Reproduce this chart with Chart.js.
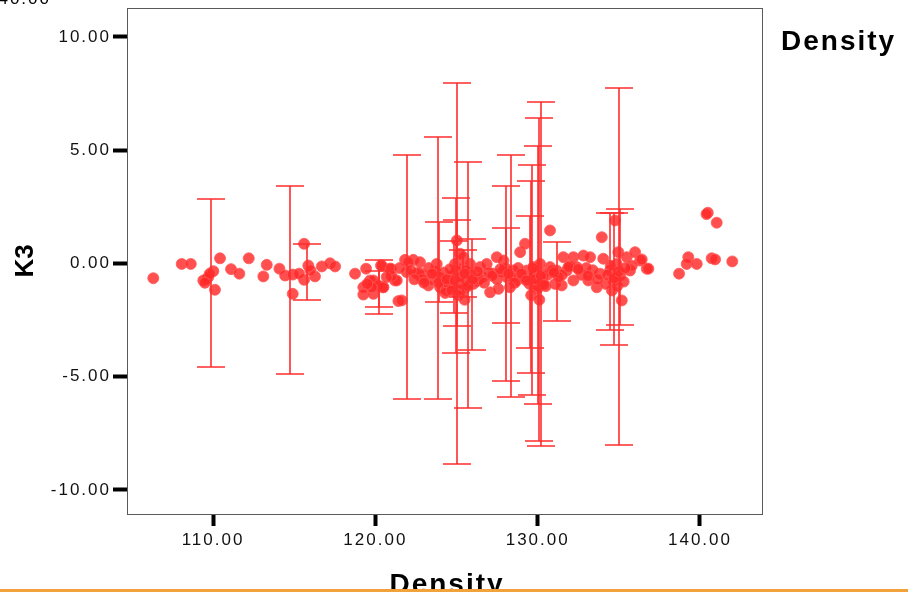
<!DOCTYPE html>
<html>
<head>
<meta charset="utf-8">
<script src="https://cdn.jsdelivr.net/npm/chart.js@4/dist/chart.umd.min.js"></script>
<style>
  html, body { margin: 0; padding: 0; background: #fff; }
  #wrap { width: 908px; height: 592px; }
</style>
</head>
<body>
<div id="wrap"><canvas id="c" width="908" height="592"></canvas></div>
<script>
// tick values
const xTicks = [110, 120, 130, 140]
const yTicks = [-10, -5, 0, 5, 10]

// scatter points: Density vs K3
const pointX = [
  106.32, 108.07, 108.63, 109.40, 109.71, 110.02, 109.61, 110.12, 110.43, 111.11,
  111.62, 112.20, 113.10, 113.31, 114.09, 114.44, 114.91, 114.91, 115.61, 115.61,
  115.87, 116.28, 116.70, 117.21, 117.52, 118.75, 119.43, 120.09, 119.26, 119.26,
  120.35, 120.91, 121.21, 121.42, 119.67, 120.49, 119.88, 109.80, 109.50, 115.30,
  116.00,
  120.39, 120.95, 119.88, 120.19, 120.49, 119.77, 121.32, 121.62, 121.83, 122.34,
  122.03, 122.75, 121.93, 122.55, 122.96, 123.48, 123.78, 123.27, 124.09, 124.60,
  125.02, 125.22, 124.91, 125.42, 124.81, 125.22, 124.40, 125.63, 123.99, 123.68,
  125.42, 125.83, 125.63, 126.04, 125.42, 126.45, 126.86, 127.07, 127.58, 127.48,
  127.89, 127.27, 128.10, 128.71, 128.92, 129.22, 128.50, 129.33, 129.73, 129.94,
  130.35, 130.76, 130.76, 131.07, 129.73, 130.15,
  131.58, 132.20, 132.82, 133.23, 131.17, 131.79, 132.41, 131.48, 132.20, 133.12,
  133.64, 133.95, 133.84, 134.46, 134.87, 134.97, 134.77, 135.08, 134.67, 134.57,
  135.18, 135.49, 136.00, 136.31, 136.72, 135.69, 134.04,
  140.48, 141.03, 139.28, 139.18, 139.80, 138.71, 140.72, 140.93, 141.99, 136.41,
  136.82, 140.40,
  124.20, 124.50, 124.80, 125.00, 125.30, 125.60, 125.90, 126.20, 124.30, 125.10,
  125.50, 124.00, 126.60, 127.00, 127.50, 128.00, 128.40, 128.80, 129.10, 129.50,
  129.80, 130.00, 130.30, 130.60, 129.60, 130.10, 131.50, 132.70, 133.40, 134.20,
  134.90, 135.30, 134.50, 135.80, 122.70, 123.30, 121.50, 121.00, 126.40, 127.80,
  124.70, 125.80, 130.50, 129.90, 133.00, 132.00,
  122.20, 122.90, 123.50, 123.90, 124.40, 124.60, 124.90, 125.20, 125.50, 125.70,
  126.00, 126.30, 126.70, 127.20, 127.70, 128.20, 128.60, 129.00, 129.30, 129.70,
  130.20, 130.40, 130.90, 131.30, 131.90, 132.50, 133.10, 133.70, 134.30, 134.70,
  135.00, 135.40, 122.40, 123.00, 128.30, 131.00, 120.70, 119.50
]
const pointY = [
  -0.65, -0.02, -0.02, -0.75, -0.60, -0.34, -0.68, -1.16, 0.23, -0.25,
  -0.45, 0.23, -0.57, -0.06, -0.23, -0.53, -0.49, -1.34, 0.87, -0.72,
  -0.09, -0.57, -0.13, 0.01, -0.13, -0.45, -0.23, -0.97, -1.05, -1.37,
  -0.09, -0.23, -0.75, -1.66, -0.75, -1.05, -1.34, -0.45, -0.85, -0.45,
  -0.30,
  -0.09, -0.23, -0.75, -0.97, -1.05, -1.05, -0.75, -1.63, 0.16, 0.16,
  0.06, 0.06, -0.38, -0.45, -0.53, -0.68, -0.02, -0.97, -0.82, -0.60,
  1.02, 0.43, -0.02, -0.16, -1.05, -1.19, -1.19, -0.75, -1.05, -0.31,
  0.28, -0.02, -0.60, -0.90, -1.19, -0.16, -0.02, -1.27, -1.12, 0.28,
  0.13, -0.45, -0.60, -0.75, 0.50, 0.87, -0.31, -0.31, -0.60, -0.97,
  -0.45, 1.46, -0.16, -0.90, -0.16, -0.02,
  0.28, 0.28, 0.35, 0.28, -0.31, -0.31, -0.16, -0.97, -0.75, -0.75,
  -1.05, 1.16, -0.45, -0.31, -0.02, 0.50, 1.90, -0.53, -0.75, -1.19,
  -1.63, 0.28, 0.50, 0.13, -0.23, -0.31, 0.21,
  2.24, 1.80, 0.28, -0.02, -0.02, -0.45, 0.23, 0.18, 0.09, 0.18,
  -0.23, 2.18,
  -0.40, -0.90, -0.50, -0.30, -0.90, -0.30, -0.50, -0.80, -1.30, -1.40,
  -1.60, -0.60, -0.60, -0.40, -0.70, -0.20, -0.60, -0.20, -0.60, -0.90,
  -0.40, -1.10, -0.80, -0.50, -1.40, -1.60, -0.50, -0.50, -0.30, -0.90,
  -1.00, -0.80, -0.10, -0.10, -0.40, -0.20, -0.20, -0.55, -0.70, -0.40,
  -1.20, -0.90, -1.00, -0.70, -0.20, -0.10,
  -0.30, -0.70, -0.45, -0.85, -0.70, -0.25, -0.75, -0.60, -0.45, -1.00,
  -0.70, -0.35, -0.85, -0.55, -0.25, -0.45, -0.85, -0.45, -0.75, -0.20,
  -0.55, -0.95, -0.30, -0.60, -0.15, -0.25, -0.55, -0.70, -0.50, -0.65,
  -0.35, -0.20, -0.70, -0.85, -1.05, -0.40, -0.60, -0.90
]

// error bars: position, low end, high end
const errX = [
  109.85, 114.75, 115.81, 120.25, 120.25, 121.93, 123.84, 123.90, 125.05, 124.95,
  125.00, 124.85, 125.42, 125.73, 125.96, 128.33, 128.05, 128.05, 130.23, 130.10,
  130.03, 129.67, 129.61, 129.50, 131.17, 134.98, 134.73, 134.46, 135.10
]
const errLow = [
  -4.55, -4.90, -1.62, -2.25, -1.94, -5.97, -5.97, -1.71, -8.84, -3.96,
  -2.78, -2.18, -1.46, -6.37, -3.81, -5.90, -5.21, -2.63, -8.07, -7.83,
  -6.21, -5.81, -4.83, -3.72, -2.56, -8.01, -3.58, -2.93, -2.71
]
const errHigh = [
  2.85, 3.42, 0.87, 0.15, -0.32, 4.80, 5.59, 1.85, 7.98, 2.88,
  1.93, 1.00, 0.60, 4.49, 1.09, 4.80, 3.41, 1.56, 7.14, 6.43,
  5.19, 4.34, 3.65, 2.09, 0.93, 7.76, 2.24, 2.24, 2.41
]

const FONT = '"Liberation Sans", Arial, sans-serif'

const errorBars = {
  id: 'errorBars',
  afterDatasetsDraw(chart) {
    const { ctx, scales: { x, y } } = chart
    ctx.save()
    ctx.strokeStyle = '#ff2e2e'
    ctx.lineWidth = 1.6
    errX.forEach((v, i) => {
      const px = Math.round(x.getPixelForValue(v))
      const lo = Math.round(y.getPixelForValue(errLow[i]))
      const hi = Math.round(y.getPixelForValue(errHigh[i]))
      ctx.beginPath()
      ctx.moveTo(px, lo); ctx.lineTo(px, hi)
      ctx.moveTo(px - 14, lo); ctx.lineTo(px + 14, lo)
      ctx.moveTo(px - 14, hi); ctx.lineTo(px + 14, hi)
      ctx.stroke()
    })
    ctx.restore()
  }
}

const frameAndText = {
  id: 'frameAndText',
  beforeDraw(chart) {
    chart.ctx.letterSpacing = '2px'
  },
  afterDraw(chart) {
    const { ctx, chartArea: a } = chart
    ctx.save()
    ctx.strokeStyle = '#5a5a5a'
    ctx.lineWidth = 1
    ctx.strokeRect(a.left + 0.5, a.top + 0.5, a.right - a.left, a.bottom - a.top)

    ctx.fillStyle = '#000'
    ctx.letterSpacing = '2px'
    ctx.font = 'bold 28px ' + FONT
    ctx.textAlign = 'left'
    ctx.textBaseline = 'alphabetic'
    ctx.fillText('Density', 781, 50)
    ctx.textAlign = 'center'
    ctx.fillText('Density', 447, 593)

    ctx.font = '17px ' + FONT
    ctx.textAlign = 'right'
    ctx.fillText('40.00', 51, 4)

    ctx.save()
    ctx.translate(33, 261)
    ctx.rotate(-Math.PI / 2)
    ctx.font = 'bold 26px ' + FONT
    ctx.letterSpacing = '0px'
    ctx.textAlign = 'center'
    ctx.fillText('K3', 0, 0)
    ctx.restore()

    ctx.fillStyle = '#f2a23a'
    ctx.fillRect(0, 589, 908, 3)
    ctx.restore()
  }
}

new Chart(document.getElementById('c'), {
  type: 'scatter',
  data: {
    datasets: [{
      data: pointX.map((v, i) => ({ x: v, y: pointY[i] })),
      pointStyle: 'circle',
      pointRadius: 5.5,
      pointHoverRadius: 5.5,
      backgroundColor: 'rgba(255,40,40,0.82)',
      borderColor: 'rgba(255,90,90,0.8)',
      borderWidth: 1,
    }]
  },
  options: {
    responsive: false,
    animation: false,
    events: [],
    layout: { padding: { top: 8, right: 146, left: 0, bottom: 0 } },
    plugins: { legend: { display: false }, tooltip: { enabled: false } },
    scales: {
      x: {
        type: 'linear',
        min: 104.7,
        max: 143.82,
        afterBuildTicks: s => { s.ticks = xTicks.map(v => ({ value: v })) },
        afterFit: s => { s.height = 78; s.paddingLeft = 0; s.paddingRight = 0 },
        border: { display: false },
        grid: { drawOnChartArea: false, drawTicks: true, tickLength: 12, tickWidth: 4, tickColor: '#000' },
        ticks: { color: '#111', padding: 4, font: { family: FONT, size: 17 }, callback: v => Number(v).toFixed(2) },
      },
      y: {
        type: 'linear',
        min: -11.06,
        max: 11.28,
        afterBuildTicks: s => { s.ticks = yTicks.map(v => ({ value: v })) },
        afterFit: s => { s.width = 127; s.paddingTop = 0; s.paddingBottom = 0 },
        border: { display: false },
        grid: { drawOnChartArea: false, drawTicks: true, tickLength: 14, tickWidth: 4, tickColor: '#000' },
        ticks: { color: '#111', padding: 2, font: { family: FONT, size: 17 }, callback: v => Number(v).toFixed(2) },
      },
    },
  },
  plugins: [errorBars, frameAndText],
})
</script>
</body>
</html>
